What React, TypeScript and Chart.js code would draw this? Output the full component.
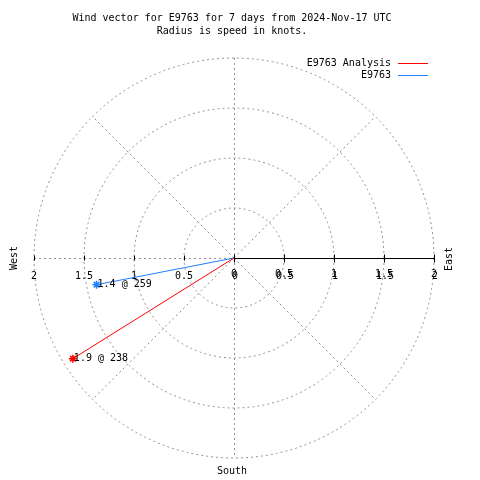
import React, { useEffect, useRef } from "react";
import { Chart, registerables } from "chart.js";

Chart.register(...registerables);

const titleLines = [
  "Wind vector for E9763 for 7 days from 2024-Nov-17 UTC",
  "Radius is speed in knots.",
];
const seriesNames = ["E9763 Analysis", "E9763"];
const seriesColors = ["#ff0000", "#1e80ff"];
const speeds = [1.9, 1.4];
const directions = [238, 259];
const ringRadii = [0.5, 1, 1.5, 2];
const tickValues = [-2, -1.5, -1, -0.5, 0, 0.5, 1, 1.5, 2];
const tickLabels = ["2", "1.5", "1", "0.5", "0", "0.5", "1", "1.5", "2"];
const compassLabels = { west: "West", east: "East", south: "South" };

const FONT = '10px "DejaVu Sans Mono", "Liberation Mono", monospace';

function vecX(s: number, d: number) {
  return s * Math.sin((d * Math.PI) / 180);
}
function vecY(s: number, d: number) {
  return s * Math.cos((d * Math.PI) / 180);
}

const polarPlugin = {
  id: "polarGrid",
  beforeDatasetsDraw(chart: any) {
    const ctx = chart.ctx;
    const xs = chart.scales.x;
    const ys = chart.scales.y;
    const cx = xs.getPixelForValue(0);
    const cy = ys.getPixelForValue(0);
    const R = xs.getPixelForValue(2) - cx;
    ctx.save();
    ctx.strokeStyle = "#909090";
    ctx.lineWidth = 1;
    ctx.setLineDash([2, 3]);
    ringRadii.forEach((r) => {
      const pr = xs.getPixelForValue(r) - cx;
      ctx.beginPath();
      ctx.arc(cx, cy, pr, 0, Math.PI * 2);
      ctx.stroke();
    });
    [45, 135, 225, 315].forEach((a) => {
      const rad = (a * Math.PI) / 180;
      ctx.beginPath();
      ctx.moveTo(cx, cy);
      ctx.lineTo(cx + R * Math.cos(rad), cy - R * Math.sin(rad));
      ctx.stroke();
    });
    ctx.beginPath();
    ctx.moveTo(Math.round(cx) + 0.5, cy - R);
    ctx.lineTo(Math.round(cx) + 0.5, cy + R);
    ctx.stroke();
    ctx.beginPath();
    ctx.moveTo(cx - R, Math.round(cy) + 0.5);
    ctx.lineTo(cx, Math.round(cy) + 0.5);
    ctx.stroke();
    ctx.setLineDash([]);
    ctx.strokeStyle = "#000000";
    const yy = Math.round(cy) + 0.5;
    ctx.beginPath();
    ctx.moveTo(cx, yy);
    ctx.lineTo(cx + R, yy);
    ctx.stroke();
    tickValues.forEach((v) => {
      const px = Math.round(xs.getPixelForValue(v)) + 0.5;
      ctx.beginPath();
      if (v >= 0) {
        ctx.moveTo(px, yy - 4);
        ctx.lineTo(px, yy + 4);
      } else {
        ctx.moveTo(px, yy - 3);
        ctx.lineTo(px, yy + 2);
      }
      ctx.stroke();
    });
    ctx.fillStyle = "#000000";
    ctx.font = FONT;
    ctx.textAlign = "center";
    ctx.textBaseline = "middle";
    tickValues.forEach((v, i) => {
      const px = xs.getPixelForValue(v);
      if (v >= 0) {
        ctx.fillText(tickLabels[i], px, cy + 16);
        ctx.fillText(tickLabels[i], px + 1, cy + 18);
      } else {
        ctx.fillText(tickLabels[i], px, cy + 18);
      }
    });
    ctx.restore();
  },
  afterDraw(chart: any) {
    const ctx = chart.ctx;
    const xs = chart.scales.x;
    const ys = chart.scales.y;
    const cx = xs.getPixelForValue(0);
    const cy = ys.getPixelForValue(0);
    ctx.save();
    ctx.fillStyle = "#000000";
    ctx.font = FONT;
    ctx.textBaseline = "middle";
    ctx.textAlign = "center";
    ctx.fillText(titleLines[0], 232, 18);
    ctx.fillText(titleLines[1], 232, 31);
    seriesNames.forEach((n, i) => {
      const y = 63 + i * 12;
      ctx.textAlign = "right";
      ctx.fillStyle = "#000000";
      ctx.fillText(n, 391, y);
      ctx.fillStyle = seriesColors[i];
      ctx.fillRect(398, y, 30, 1);
    });
    ctx.fillStyle = "#000000";
    ctx.textAlign = "center";
    ctx.fillText(compassLabels.south, cx - 2, 471);
    ctx.save();
    ctx.translate(14, cy);
    ctx.rotate(-Math.PI / 2);
    ctx.fillText(compassLabels.west, 0, 0);
    ctx.restore();
    ctx.save();
    ctx.translate(449, cy + 1);
    ctx.rotate(-Math.PI / 2);
    ctx.fillText(compassLabels.east, 0, 0);
    ctx.restore();
    ctx.textAlign = "left";
    speeds.forEach((s, i) => {
      const d = directions[i];
      const px = xs.getPixelForValue(vecX(s, d));
      const py = ys.getPixelForValue(vecY(s, d));
      ctx.fillText(`${s.toFixed(1)} @ ${d}`, px + 1, py);
    });
    ctx.restore();
  },
};

export default function App() {
  const ref = useRef<HTMLCanvasElement | null>(null);
  useEffect(() => {
    if (!ref.current) return;
    const datasets = speeds.map((s, i) => ({
      label: seriesNames[i],
      data: [
        { x: 0, y: 0 },
        { x: vecX(s, directions[i]), y: vecY(s, directions[i]) },
      ],
      showLine: true,
      borderColor: seriesColors[i],
      backgroundColor: seriesColors[i],
      borderWidth: 1,
      pointStyle: "star",
      pointRadius: [0, 4],
      pointBorderWidth: 1.5,
      pointBorderColor: seriesColors[i],
    }));
    const chart = new Chart(ref.current, {
      type: "scatter",
      data: { datasets },
      options: {
        animation: false,
        responsive: false,
        maintainAspectRatio: false,
        layout: { padding: { left: 34, right: 46, top: 58, bottom: 22 } },
        scales: {
          x: { type: "linear", min: -2, max: 2, display: false },
          y: { type: "linear", min: -2, max: 2, display: false },
        },
        plugins: {
          legend: { display: false },
          title: { display: false },
          tooltip: { enabled: false },
        },
      },
      plugins: [polarPlugin],
    });
    return () => chart.destroy();
  }, []);
  return (
    <div style={{ position: "fixed", left: 0, top: 0, width: 480, height: 480, background: "#fff" }}>
      <canvas ref={ref} width={480} height={480} style={{ width: 480, height: 480 }} />
    </div>
  );
}
